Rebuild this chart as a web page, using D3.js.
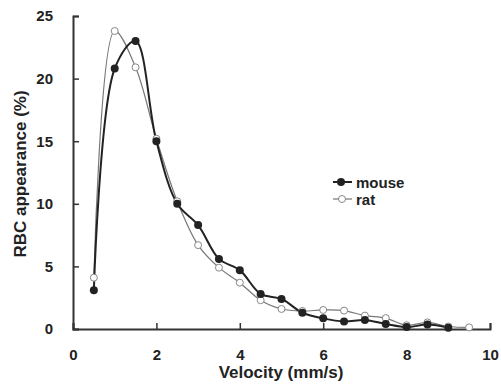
<!DOCTYPE html>
<html><head><meta charset="utf-8">
<script src="https://cdn.jsdelivr.net/npm/d3@7"></script>
<style>body{margin:0;background:#fff}svg{display:block}text{font-family:"Liberation Sans",Arial,sans-serif;font-weight:bold;fill:#222}</style>
</head><body><svg id="c" width="501" height="386"></svg>
<script>
const velocity = [0.5,1,1.5,2,2.5,3,3.5,4,4.5,5,5.5,6,6.5,7,7.5,8,8.5,9,9.5];
const mouseVals = [3.1,20.8,23.0,15.0,10.0,8.3,5.6,4.7,2.8,2.4,1.3,0.85,0.6,0.72,0.4,0.15,0.35,0.1,null];
const ratVals = [4.1,23.8,20.9,15.2,10.2,6.7,4.9,3.7,2.3,1.6,1.44,1.52,1.47,1.07,0.87,0.3,0.53,0.2,0.13];
const xTicks = [0,2,4,6,8,10];
const yTicks = [0,5,10,15,20,25];

const svg = d3.select("#c");
const x = d3.scaleLinear().domain([0,10]).range([73,490]);
const y = d3.scaleLinear().domain([0,25]).range([329,16]);

const xAxis = d3.axisBottom(x).tickValues(xTicks).tickSizeInner(-6).tickSizeOuter(-6).tickPadding(20);
const gx = svg.append("g").attr("transform","translate(0,329)").call(xAxis);
gx.select(".domain").attr("stroke","#333").attr("stroke-width",2);
gx.selectAll(".tick line").attr("stroke","#333").attr("stroke-width",1.5);
gx.selectAll(".tick text").attr("font-size",15).attr("fill","#222");

const yAxis = d3.axisLeft(y).tickValues(yTicks).tickSizeInner(-6).tickSizeOuter(-6).tickPadding(20);
const gy = svg.append("g").attr("transform","translate(73,0)").call(yAxis);
gy.select(".domain").attr("stroke","#333").attr("stroke-width",2);
gy.selectAll(".tick line").attr("stroke","#333").attr("stroke-width",1.5);
gy.selectAll(".tick text").attr("font-size",15).attr("fill","#222");

svg.append("text").attr("x",281).attr("y",378).attr("text-anchor","middle").attr("font-size",17).text("Velocity (mm/s)");
svg.append("text").attr("transform","translate(26,174) rotate(-90)").attr("text-anchor","middle").attr("font-size",17).text("RBC appearance (%)");

const line = d3.line().defined(d=>d[1]!=null).x(d=>x(d[0])).y(d=>y(d[1])).curve(d3.curveCatmullRom.alpha(0.5));
const ratData = velocity.map((v,i)=>[v,ratVals[i]]);
const mouseData = velocity.map((v,i)=>[v,mouseVals[i]]).filter(d=>d[1]!=null);

svg.append("path").datum(ratData).attr("d",line).attr("fill","none").attr("stroke","#777").attr("stroke-width",1.2);
svg.append("path").datum(mouseData).attr("d",line).attr("fill","none").attr("stroke","#222").attr("stroke-width",2);

svg.selectAll(".rp").data(ratData).join("circle").attr("cx",d=>x(d[0])).attr("cy",d=>y(d[1])).attr("r",3.5)
  .attr("fill","#fff").attr("stroke","#888").attr("stroke-width",1);
svg.selectAll(".mp").data(mouseData).join("circle").attr("cx",d=>x(d[0])).attr("cy",d=>y(d[1])).attr("r",4)
  .attr("fill","#222");

const lg = svg.append("g");
lg.append("line").attr("x1",333).attr("x2",352).attr("y1",182).attr("y2",182).attr("stroke","#222").attr("stroke-width",2);
lg.append("circle").attr("cx",341).attr("cy",182).attr("r",4).attr("fill","#222");
lg.append("text").attr("x",356).attr("y",188).attr("font-size",15).text("mouse");
lg.append("line").attr("x1",333).attr("x2",352).attr("y1",199).attr("y2",199).attr("stroke","#777").attr("stroke-width",1.2);
lg.append("circle").attr("cx",342).attr("cy",199).attr("r",3.5).attr("fill","#fff").attr("stroke","#888");
lg.append("text").attr("x",356).attr("y",205).attr("font-size",15).text("rat");
</script></body></html>
